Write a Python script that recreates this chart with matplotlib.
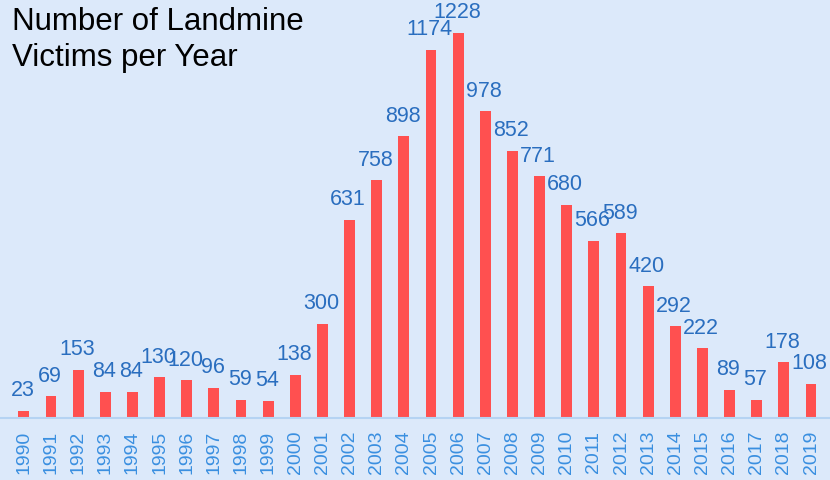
import matplotlib.pyplot as plt

years = [str(y) for y in range(1990, 2020)]
victims = [23, 69, 153, 84, 84, 130, 120, 96, 59, 54,
           138, 300, 631, 758, 898, 1174, 1228, 978, 852, 771,
           680, 566, 589, 420, 292, 222, 89, 57, 178, 108]

bg = '#dce9fa'
plt.rcParams['font.family'] = ['Liberation Sans', 'DejaVu Sans']

fig = plt.figure(figsize=(8.3, 4.8), dpi=100, facecolor=bg)
ax = fig.add_axes([0, 0.129, 1, 0.871], facecolor=bg)

x = list(range(len(years)))
bars = ax.bar(x, victims, width=0.4, color='#ff5050')

for xi, v in zip(x, victims):
    ax.annotate(str(v), (xi, v), xytext=(-1, 7), textcoords='offset points',
                ha='center', va='bottom', fontsize=15.5, color='#2a6ebf')

ax.set_xlim(-0.88, 29.7)
ax.set_ylim(0, 1333)
ax.set_xticks(x)
ax.set_xticklabels(years, rotation=90, fontsize=14, color='#3a8fe0')
ax.tick_params(axis='x', length=0, pad=9)
ax.set_yticks([])
for s in ['top', 'right', 'left']:
    ax.spines[s].set_visible(False)
ax.spines['bottom'].set_color('#b5d3f3')
ax.spines['bottom'].set_linewidth(1.5)

fig.text(0.014, 0.985, 'Number of Landmine\nVictims per Year', ha='left', va='top',
         fontsize=22.5, color='black', linespacing=1.25)

fig.savefig('out.png', dpi=100, facecolor=bg)
